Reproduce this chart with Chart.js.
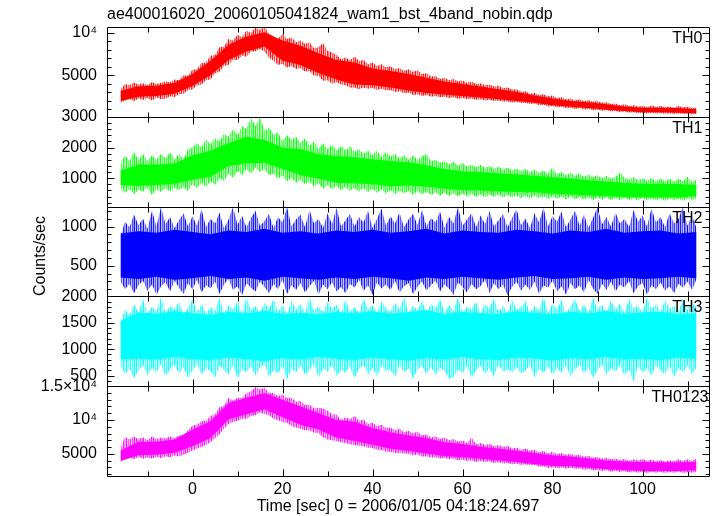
<!DOCTYPE html>
<html>
<head>
<meta charset="utf-8">
<script src="https://cdn.jsdelivr.net/npm/chart.js@4"></script>
<style>
html, body { margin: 0; padding: 0; background: #fff; }
</style>
</head>
<body>
<canvas id="lc" width="717" height="516"></canvas>
<script>
// titles
var titleText = 'ae400016020_20060105041824_wam1_bst_4band_nobin.qdp';
var xTitle = 'Time [sec] 0 = 2006/01/05 04:18:24.697';
var yTitle = 'Counts/sec';

// x axis
var xTickLabels = [0, 20, 40, 60, 80, 100];

// time of each sample (sec)
var times = [
  -16, -15, -14, -13, -12, -11, -10, -9, -8, -7,
  -6, -5, -4, -3, -2, -1, 0, 1, 2, 3,
  4, 5, 6, 7, 8, 9, 10, 11, 12, 13,
  14, 15, 16, 17, 18, 19, 20, 21, 22, 23,
  24, 25, 26, 27, 28, 29, 30, 31, 32, 33,
  34, 35, 36, 37, 38, 39, 40, 41, 42, 43,
  44, 45, 46, 47, 48, 49, 50, 51, 52, 53,
  54, 55, 56, 57, 58, 59, 60, 61, 62, 63,
  64, 65, 66, 67, 68, 69, 70, 71, 72, 73,
  74, 75, 76, 77, 78, 79, 80, 81, 82, 83,
  84, 85, 86, 87, 88, 89, 90, 91, 92, 93,
  94, 95, 96, 97, 98, 99, 100, 101, 102, 103,
  104, 105, 106, 107, 108, 109, 110, 111, 112
];
// coarser time grid for the dense core of each curve
var coreTimes = [
  -16, -12, -8, -4, 0, 4, 8, 12, 16, 20, 24, 28, 32, 36, 40, 44, 48,
  52, 56, 60, 64, 68, 72, 76, 80, 84, 88, 92, 96, 100, 104, 108, 112
];

// panels
var bands = ['TH0', 'TH1', 'TH2', 'TH3', 'TH0123'];
var bandColors = [[255, 0, 0], [0, 255, 0], [0, 0, 255], [0, 255, 255], [255, 0, 255]];
var bandMin = [71, 75, 109, 298, 1716];
var bandMax = [10714, 3000, 1254, 2000, 15000];
var bandTicks = [[5000, 10000], [1000, 2000, 3000], [500, 1000], [500, 1000, 1500, 2000], [5000, 10000, 15000]];
var bandMinor = [1000, 200, 100, 100, 1000];

// extreme upper / lower spikes of each light curve, counts/sec
var th0Hi = [
  3350, 3950, 3850, 4100, 3900, 4050, 3850, 4200, 3950, 4100,
  4250, 4150, 4500, 4400, 5000, 4950, 5650, 5700, 6450, 6500,
  7300, 7400, 8300, 8400, 9300, 9100, 9800, 9500, 10300, 10000,
  10650, 10400, 10700, 9900, 9600, 9300, 9900, 9300, 9500, 8900,
  9100, 8700, 8900, 8200, 8300, 8800, 7900, 7700, 7400, 6900,
  7100, 6800, 7200, 6700, 6800, 6300, 6500, 6100, 6300, 5950,
  6050, 5700, 5850, 5500, 5700, 5400, 5600, 5150, 5250, 4850,
  4900, 4550, 4700, 4400, 4550, 4250, 4400, 4100, 4250, 3950,
  4050, 3800, 3900, 3650, 3750, 3450, 3550, 3300, 3350, 3050,
  3100, 2800, 2900, 2650, 2750, 2500, 2600, 2300, 2400, 2150,
  2250, 2000, 2150, 1900, 2050, 1850, 1950, 1750, 1800, 1600,
  1650, 1450, 1550, 1350, 1450, 1300, 1350, 1200, 1400, 1250,
  1350, 1200, 1300, 1150, 1350, 1200, 1250, 1150, 1100
];
var th0Lo = [
  1700, 2000, 2150, 1950, 2250, 2050, 2300, 2000, 2350, 2150,
  2250, 2500, 2400, 2750, 2800, 3250, 3300, 3800, 3900, 4400,
  4500, 5200, 5400, 6100, 6200, 6850, 6800, 7350, 7200, 7800,
  7850, 8100, 7800, 7100, 6700, 6200, 6350, 5900, 6100, 5750,
  5850, 5450, 5500, 4950, 4950, 4350, 4400, 4000, 4200, 3900,
  3850, 3500, 3550, 3350, 3550, 3400, 3500, 3250, 3400, 3200,
  3250, 3000, 3100, 2850, 2950, 2650, 2750, 2550, 2650, 2450,
  2550, 2400, 2450, 2300, 2400, 2200, 2300, 2150, 2250, 2100,
  2150, 2000, 2100, 1950, 2000, 1850, 1900, 1750, 1850, 1700,
  1750, 1600, 1650, 1450, 1500, 1300, 1350, 1200, 1250, 1100,
  1150, 1000, 1100, 950, 1000, 850, 950, 800, 850, 720,
  760, 640, 690, 570, 620, 500, 560, 450, 540, 460,
  530, 440, 500, 410, 480, 400, 450, 380, 420
];
var th1Hi = [
  1450, 1750, 1550, 1850, 1600, 1800, 1550, 1750, 1600, 1800,
  1650, 1850, 1600, 1800, 1600, 1950, 2000, 2150, 2000, 2250,
  2100, 2300, 2200, 2450, 2350, 2600, 2400, 2700, 2600, 2950,
  2700, 2980, 2550, 2650, 2400, 2500, 2200, 2400, 2250, 2350,
  2150, 2300, 2050, 2200, 1950, 2150, 1950, 2100, 1900, 2050,
  1900, 2050, 1850, 1950, 1800, 1900, 1750, 1900, 1700, 1850,
  1700, 1800, 1650, 1750, 1600, 1750, 1600, 1700, 1800, 1550,
  1600, 1500, 1550, 1450, 1550, 1400, 1500, 1380, 1450, 1350,
  1450, 1330, 1400, 1300, 1380, 1280, 1350, 1250, 1320, 1230,
  1300, 1200, 1280, 1180, 1250, 1150, 1350, 1120, 1200, 1100,
  1180, 1080, 1150, 1050, 1120, 1030, 1100, 1000, 1080, 980,
  1050, 1180, 1020, 950, 1040, 930, 1000, 920, 1010, 910,
  990, 900, 1000, 890, 970, 910, 1050, 880, 950
];
var th1Lo = [
  700, 520, 650, 480, 620, 560, 700, 450, 640, 550,
  680, 560, 700, 600, 720, 580, 800, 680, 850, 720,
  900, 780, 1000, 900, 1150, 1000, 1250, 1080, 1300, 1150,
  1350, 1200, 1300, 1100, 1150, 980, 1100, 900, 1000, 850,
  950, 800, 900, 720, 850, 650, 780, 620, 760, 600,
  720, 580, 700, 560, 680, 540, 660, 520, 640, 500,
  620, 480, 600, 500, 590, 460, 580, 480, 560, 450,
  540, 430, 530, 420, 520, 400, 500, 410, 490, 390,
  480, 380, 470, 390, 460, 360, 450, 370, 440, 350,
  440, 340, 430, 350, 420, 320, 410, 330, 400, 310,
  400, 310, 390, 300, 380, 290, 380, 300, 370, 280,
  370, 280, 360, 290, 350, 270, 360, 280, 350, 270,
  350, 260, 350, 280, 340, 260, 350, 280, 360
];
var th2Hi = [
  880, 1060, 990, 1150, 1020, 1100, 970, 1200, 1000, 1250,
  1030, 1120, 980, 1080, 1170, 1000, 1130, 1010, 1220, 990,
  1100, 1040, 1180, 970, 1090, 1250, 1020, 1140, 990, 1110,
  1200, 1010, 1070, 1160, 980, 1120, 1050, 1250, 1000, 1090,
  1150, 990, 1210, 1040, 1100, 980, 1170, 1030, 1240, 1000,
  1080, 1160, 1000, 1120, 1050, 1200, 980, 1100, 1230, 1010,
  1130, 1040, 1180, 990, 1090, 1160, 1020, 1210, 1000, 1110,
  1050, 1190, 980, 1120, 1040, 1250, 1010, 1090, 1170, 990,
  1140, 1030, 1200, 1000, 1080, 1160, 990, 1110, 1220, 1020,
  1100, 980, 1170, 1050, 1240, 1000, 1130, 1060, 1190, 990,
  1090, 1200, 1010, 1150, 980, 1110, 1250, 1030, 1120, 1000,
  1180, 1040, 1100, 990, 1210, 1060, 1140, 1000, 1230, 1050,
  1120, 990, 1170, 1040, 1100, 1250, 1010, 1140, 980
];
var th2Lo = [
  300, 200, 270, 150, 250, 310, 180, 260, 130, 240,
  290, 170, 310, 220, 140, 280, 200, 320, 160, 250,
  210, 300, 140, 260, 330, 190, 240, 120, 280, 220,
  170, 300, 230, 150, 270, 200, 320, 140, 250, 190,
  280, 160, 240, 310, 130, 260, 200, 290, 170, 230,
  150, 270, 220, 320, 180, 250, 130, 290, 210, 260,
  190, 310, 160, 240, 280, 140, 230, 300, 180, 250,
  310, 170, 260, 210, 130, 290, 230, 160, 270, 200,
  240, 320, 150, 280, 200, 260, 120, 230, 300, 180,
  260, 190, 300, 140, 250, 220, 310, 170, 240, 130,
  280, 200, 250, 160, 320, 210, 140, 270, 190, 300,
  170, 260, 220, 310, 150, 240, 280, 130, 250, 200,
  290, 180, 240, 150, 270, 220, 300, 190, 330
];
var th3Hi = [
  1500, 1750, 1650, 1850, 1700, 1950, 1680, 1800, 1720, 1980,
  1690, 1820, 1750, 1900, 1660, 1780, 1950, 1700, 1850, 1670,
  1800, 1720, 1960, 1680, 1830, 1760, 1900, 1650, 1990, 1740,
  1820, 1690, 1880, 1770, 1950, 1700, 1840, 1660, 1920, 1750,
  1860, 1680, 1980, 1730, 1810, 1700, 1900, 1760, 1850, 1670,
  1940, 1720, 1800, 1690, 1970, 1750, 1830, 1680, 1900, 1780,
  1700, 1880, 1750, 1990, 1690, 1820, 1740, 1920, 1680, 1860,
  1770, 1950, 1700, 1840, 1730, 1980, 1690, 1810, 1760, 1900,
  1680, 1850, 1780, 1960, 1710, 1830, 1670, 1940, 1750, 1800,
  1900, 1700, 1820, 1740, 1990, 1690, 1860, 1760, 1930, 1680,
  1810, 1950, 1720, 1850, 1700, 1980, 1760, 1840, 1690, 1920,
  1740, 1870, 1680, 1950, 1780, 1820, 1700, 1990, 1750, 1860,
  1690, 1930, 1770, 1820, 1710, 1960, 1740, 1880, 1800
];
var th3Lo = [
  700, 520, 640, 450, 600, 700, 500, 650, 560, 720,
  480, 620, 700, 540, 660, 450, 600, 720, 520, 640,
  580, 460, 690, 610, 520, 700, 440, 630, 560, 680,
  500, 650, 720, 470, 600, 540, 680, 430, 620, 560,
  690, 510, 600, 720, 460, 640, 570, 700, 490, 610,
  550, 680, 450, 620, 700, 520, 640, 480, 690, 580,
  620, 470, 700, 560, 640, 440, 610, 690, 530, 660,
  500, 650, 580, 440, 460, 620, 540, 680, 450, 600,
  690, 530, 640, 480, 700, 570, 620, 560, 660, 540,
  590, 700, 470, 630, 550, 680, 510, 640, 560, 690,
  480, 620, 700, 540, 650, 460, 600, 710, 520, 640,
  570, 690, 500, 620, 380, 680, 560, 640, 490, 700,
  600, 530, 680, 470, 640, 560, 700, 520, 650
];
var sumHi = [
  5900, 7500, 7100, 7550, 7150, 7450, 7000, 7600, 7150, 7400,
  7250, 7600, 7300, 7750, 7700, 8500, 9200, 9300, 9800, 9900,
  10600, 10800, 11900, 12100, 13300, 12900, 13300, 13200, 14000, 14200,
  14900, 14500, 14800, 14000, 14000, 13500, 13800, 13200, 13300, 12700,
  12800, 12200, 12300, 11700, 11800, 11700, 11400, 10800, 10800, 10000,
  10400, 10100, 10600, 9900, 10100, 9400, 9600, 9100, 9300, 8800,
  8900, 8500, 8700, 8200, 8400, 8000, 8300, 7700, 7900, 7400,
  7600, 7200, 7400, 7000, 7200, 6800, 7000, 6600, 7400, 6400,
  6600, 6300, 6500, 6100, 6300, 6000, 6200, 5800, 5950, 5600,
  5800, 5500, 5600, 5200, 5400, 5050, 5300, 4950, 5100, 4850,
  5000, 4750, 4850, 4550, 4700, 4400, 4550, 4250, 4400, 4150,
  4300, 4050, 4250, 3950, 4200, 4000, 4250, 3950, 4150, 3900,
  4100, 3850, 4050, 3900, 4150, 3950, 4200, 3950, 4300
];
var sumLo = [
  3700, 4300, 4500, 4200, 4550, 4250, 4450, 4300, 4550, 4350,
  4650, 4500, 4750, 4600, 4850, 5150, 5500, 5800, 6000, 6300,
  6700, 7300, 7900, 8700, 9400, 9700, 9900, 10200, 10200, 10600,
  10700, 11100, 10900, 10700, 10200, 10000, 9700, 9600, 9100, 8900,
  8700, 8500, 8500, 8100, 8100, 7400, 7100, 7000, 6900, 6700,
  6600, 6400, 6300, 6200, 6100, 5900, 5850, 5600, 5550, 5300,
  5300, 5100, 5150, 5000, 5050, 4800, 4900, 4600, 4650, 4400,
  4500, 4300, 4400, 4200, 4300, 4050, 4150, 3950, 4050, 3800,
  3950, 3800, 3850, 3650, 3750, 3550, 3650, 3450, 3550, 3350,
  3450, 3300, 3350, 3100, 3150, 2900, 3000, 2850, 3000, 2800,
  2950, 2800, 2850, 2650, 2750, 2550, 2650, 2450, 2550, 2350,
  2500, 2300, 2450, 2250, 2400, 2200, 2350, 2150, 2350, 2200,
  2350, 2150, 2300, 2200, 2400, 2150, 2300, 2200, 2400
];

// edges of the dense core of each light curve (on coreTimes)
var th0CoreHi = [3150, 3700, 3750, 4100, 5150, 6700, 8600, 9600, 10100, 9100, 8500, 7600, 6800, 6500, 5800, 5500, 5150,
  4700, 4250, 3950, 3650, 3350, 3000, 2600, 2250, 1950, 1800, 1550, 1300, 1150, 1130, 1100, 980];
var th0CoreLo = [1950, 2450, 2550, 2800, 3750, 5000, 6800, 7800, 8400, 6700, 6200, 5250, 4500, 3900, 3800, 3550, 3200,
  2900, 2700, 2500, 2350, 2150, 1950, 1750, 1450, 1250, 1100, 920, 750, 600, 600, 560, 480];
var th1CoreHi = [1250, 1450, 1450, 1480, 1750, 1900, 2150, 2350, 2250, 2000, 1950, 1780, 1720, 1680, 1620, 1560, 1520,
  1420, 1300, 1230, 1200, 1160, 1120, 1080, 1030, 990, 930, 890, 850, 820, 820, 810, 780];
var th1CoreLo = [780, 750, 780, 820, 950, 1050, 1400, 1480, 1500, 1300, 1100, 980, 850, 830, 800, 730, 760,
  720, 660, 610, 600, 570, 550, 540, 490, 470, 440, 410, 390, 380, 380, 370, 420];
var th2CoreHi = [910, 940, 920, 960, 930, 900, 950, 930, 970, 920, 940, 910, 950, 930, 960, 920, 940,
  970, 910, 950, 930, 920, 960, 940, 910, 950, 930, 970, 920, 940, 950, 910, 930];
var th2CoreLo = [350, 330, 360, 320, 340, 370, 330, 350, 310, 360, 340, 320, 350, 330, 360, 340, 310,
  350, 330, 360, 340, 320, 350, 370, 330, 340, 360, 320, 350, 330, 340, 360, 340];
var th3CoreHi = [1540, 1700, 1670, 1720, 1680, 1650, 1710, 1680, 1730, 1670, 1690, 1660, 1710, 1680, 1720, 1670, 1700,
  1740, 1660, 1710, 1680, 1670, 1720, 1690, 1660, 1710, 1680, 1730, 1670, 1700, 1710, 1660, 1680];
var th3CoreLo = [800, 820, 800, 850, 810, 790, 840, 810, 770, 830, 800, 850, 820, 790, 840, 810, 780,
  830, 800, 850, 810, 790, 840, 820, 780, 830, 810, 850, 800, 820, 790, 840, 810];
var sumCoreHi = [5500, 6800, 6800, 7100, 8600, 9800, 12500, 13300, 14000, 13000, 12000, 11050, 10000, 9750, 8800, 8200, 7700,
  7350, 6700, 6450, 6050, 5800, 5450, 5100, 4800, 4600, 4300, 4000, 3850, 3800, 3750, 3750, 3800];
var sumCoreLo = [3950, 4800, 4850, 5150, 6100, 7350, 10100, 10850, 11600, 10400, 9300, 8600, 7400, 6900, 6350, 5750, 5400,
  5050, 4650, 4500, 4250, 4000, 3800, 3450, 3200, 3150, 2950, 2700, 2550, 2450, 2450, 2450, 2550];

var bandHi = [th0Hi, th1Hi, th2Hi, th3Hi, sumHi];
var bandLo = [th0Lo, th1Lo, th2Lo, th3Lo, sumLo];
var coreHi = [th0CoreHi, th1CoreHi, th2CoreHi, th3CoreHi, sumCoreHi];
var coreLo = [th0CoreLo, th1CoreLo, th2CoreLo, th3CoreLo, sumCoreLo];

function toPoints(xs, vals) {
  return xs.map(function (t, i) { return { x: t, y: vals[i] }; });
}

function tickText(v) {
  if (v === 10000) return '10\u2074';
  if (v === 15000) return '1.5\u00d710\u2074';
  return String(v);
}

// vertical streak pattern, looks like the dense unbinned spikes
var streakAlpha = [0.9, 0.3, 0.65, 0.2, 0.85, 0.5, 0.35, 0.95, 0.25, 0.6, 0.4, 0.8, 0.2, 0.7, 0.45, 0.9, 0.3];
function streaks(rgb) {
  var c = document.createElement('canvas');
  c.width = streakAlpha.length; c.height = 1;
  var g = c.getContext('2d');
  streakAlpha.forEach(function (a, i) {
    g.fillStyle = 'rgba(' + rgb.join(',') + ',' + a + ')';
    g.fillRect(i, 0, 1, 1);
  });
  return g.createPattern(c, 'repeat');
}

Chart.defaults.font.family = '"Liberation Sans", Arial, sans-serif';
Chart.defaults.font.size = 16;
Chart.defaults.color = '#000';

var coreSets = [];
var spikeSets = [];
var scales = {
  x: {
    type: 'linear', position: 'bottom', min: -19, max: 115,
    grid: { display: false, drawTicks: false }, border: { display: false },
    ticks: { padding: 4, maxRotation: 0 },
    afterBuildTicks: function (s) { s.ticks = xTickLabels.map(function (v) { return { value: v }; }); },
    afterFit: function (s) { s.height = 40; }
  }
};

for (var i = 0; i < bands.length; i++) {
  var id = 'y' + i;
  var solid = 'rgb(' + bandColors[i].join(',') + ')';
  var none = 'rgba(0,0,0,0)';
  coreSets.push({
    label: bands[i] + ' core', data: toPoints(coreTimes, coreHi[i]), yAxisID: id,
    borderColor: none, backgroundColor: solid, borderWidth: 1, pointRadius: 0, tension: 0, fill: '+1'
  });
  coreSets.push({
    label: bands[i] + ' core low', data: toPoints(coreTimes, coreLo[i]), yAxisID: id,
    borderColor: none, backgroundColor: solid, borderWidth: 1, pointRadius: 0, tension: 0, fill: false
  });
  spikeSets.push({
    label: bands[i], data: toPoints(times, bandHi[i]), yAxisID: id,
    borderColor: none, backgroundColor: streaks(bandColors[i]), borderWidth: 1, pointRadius: 0, tension: 0, fill: '+1'
  });
  spikeSets.push({
    label: bands[i] + ' low', data: toPoints(times, bandLo[i]), yAxisID: id,
    borderColor: none, backgroundColor: solid, borderWidth: 1, pointRadius: 0, tension: 0, fill: false
  });
  (function (k) {
    scales[id] = {
      type: 'linear', position: 'left', stack: 'panels', stackWeight: 1, weight: bands.length - k,
      min: bandMin[k], max: bandMax[k],
      grid: { display: false, drawTicks: false }, border: { display: false },
      ticks: { padding: 10, autoSkip: false, callback: function (v) { return tickText(v); } },
      afterBuildTicks: function (s) { s.ticks = bandTicks[k].map(function (v) { return { value: v }; }); },
      afterFit: function (s) { s.width = 107; }
    };
  })(i);
}

var framePlugin = {
  id: 'qdpFrame',
  afterDraw: function (chart) {
    var ctx = chart.ctx;
    var xs = chart.scales.x;
    var left = Math.round(chart.chartArea.left) + 0.5;
    var right = Math.round(chart.chartArea.right) - 0.5;
    ctx.save();
    ctx.strokeStyle = '#000';
    ctx.fillStyle = '#000';
    ctx.lineWidth = 1;
    for (var i = 0; i < bands.length; i++) {
      var s = chart.scales['y' + i];
      var top = Math.round(s.top) + 0.5;
      var bottom = Math.round(s.bottom) + 0.5;
      ctx.beginPath();
      ctx.rect(left, top, right - left, bottom - top);
      for (var v = Math.ceil(s.min / bandMinor[i]) * bandMinor[i]; v <= s.max; v += bandMinor[i]) {
        var y = Math.round(s.getPixelForValue(v)) + 0.5;
        var len = bandTicks[i].indexOf(v) >= 0 ? 7 : 4;
        ctx.moveTo(left, y); ctx.lineTo(left + len, y);
        ctx.moveTo(right, y); ctx.lineTo(right - len, y);
      }
      for (var t = -10; t <= 110; t += 10) {
        var x = Math.round(xs.getPixelForValue(t)) + 0.5;
        var tl = t % 20 === 0 ? 7 : 5;
        ctx.moveTo(x, top); ctx.lineTo(x, top + tl);
        ctx.moveTo(x, bottom); ctx.lineTo(x, bottom - tl);
      }
      ctx.stroke();
      ctx.font = '16px "Liberation Sans"';
      ctx.textAlign = 'right';
      ctx.textBaseline = 'middle';
      ctx.fillText(bands[i], i === 4 ? right - 1 : right - 7, top + 11);
    }
    ctx.font = '16px "Liberation Sans"';
    ctx.textAlign = 'left';
    ctx.textBaseline = 'middle';
    ctx.fillText(titleText, 107, 15);
    ctx.textAlign = 'center';
    ctx.fillText(xTitle, 398, 507);
    ctx.translate(41, 256);
    ctx.rotate(-Math.PI / 2);
    ctx.fillText(yTitle, 0, 0);
    ctx.restore();
  }
};

new Chart(document.getElementById('lc'), {
  type: 'line',
  data: { datasets: coreSets.concat(spikeSets) },
  options: {
    responsive: false,
    animation: false,
    normalized: true,
    layout: { padding: { left: 0, right: 7, top: 27, bottom: 0 } },
    plugins: { legend: { display: false }, tooltip: { enabled: false }, title: { display: false } },
    scales: scales
  },
  plugins: [framePlugin]
});
</script>
</body>
</html>
